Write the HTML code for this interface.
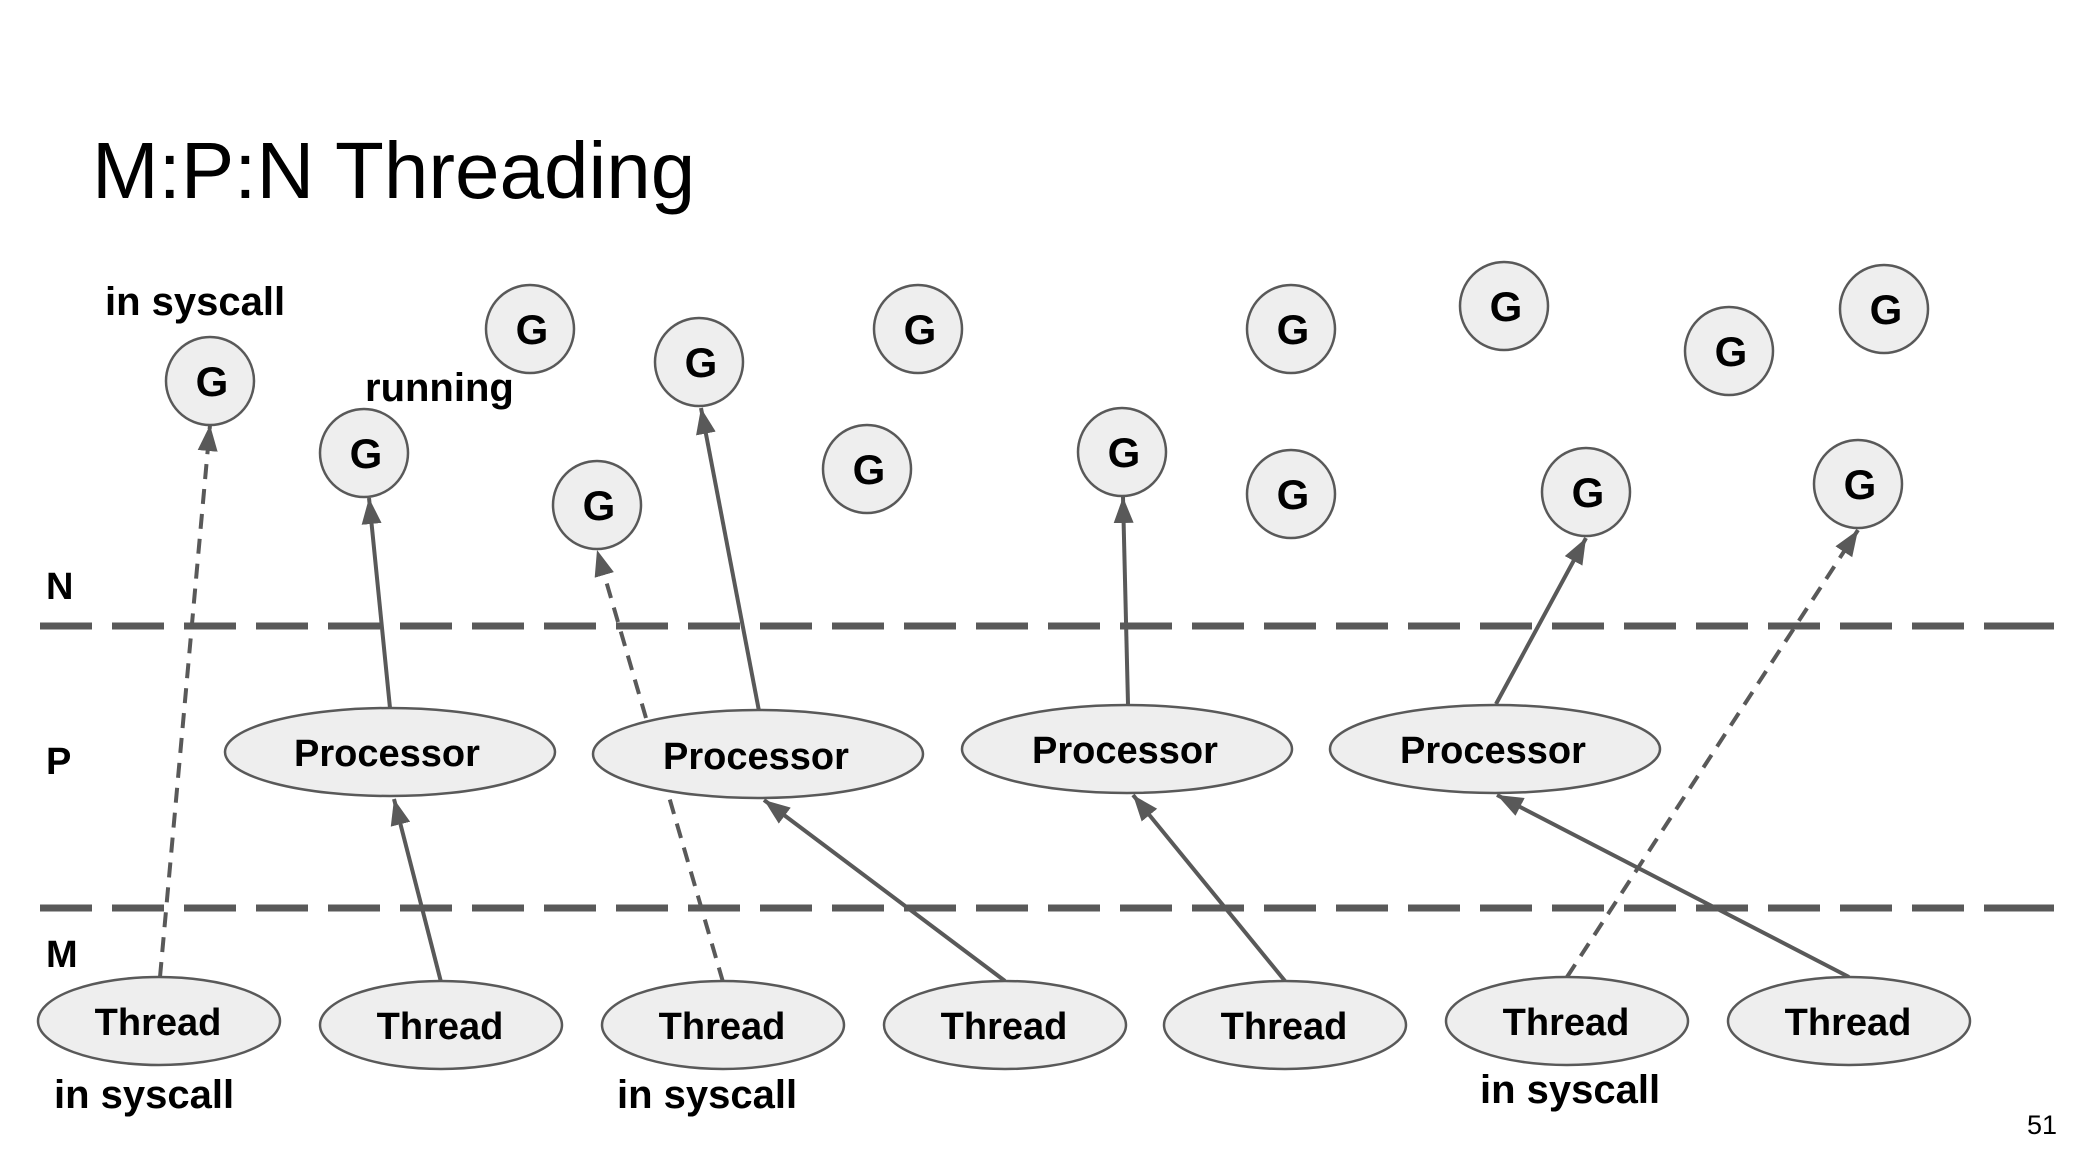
<!DOCTYPE html>
<html><head><meta charset="utf-8"><style>
html,body{margin:0;padding:0;background:#fff;}
svg{display:block;}
text{font-family:"Liberation Sans",Arial,sans-serif;fill:#000;}
.b{font-weight:bold;}
</style></head><body>
<svg width="2094" height="1172" viewBox="0 0 2094 1172" xmlns="http://www.w3.org/2000/svg">
<defs>
<marker id="ah" markerUnits="userSpaceOnUse" markerWidth="30" markerHeight="24" refX="26" refY="10" orient="auto">
<path d="M0,0 L26,10 L0,20 Z" fill="#595959"/>
</marker>
</defs>
<rect width="2094" height="1172" fill="#fff"/>
<text x="92" y="198" font-size="80">M:P:N Threading</text>

<g stroke="#595959" stroke-width="7" stroke-dasharray="52 20" fill="none">
<line x1="40" y1="626" x2="2054" y2="626"/>
<line x1="40" y1="908" x2="2054" y2="908"/>
<line x1="2002" y1="626" x2="2054" y2="626"/>
<line x1="2002" y1="908" x2="2054" y2="908"/>
</g>

<text class="b" x="46" y="599" font-size="38">N</text>
<text class="b" x="46" y="774" font-size="38">P</text>
<text class="b" x="46" y="967" font-size="38">M</text>

<g stroke="#595959" stroke-width="4" fill="none" marker-end="url(#ah)">
<line x1="160" y1="977" x2="210" y2="425" stroke-dasharray="15 10"/>
<line x1="390" y1="708" x2="369" y2="498"/>
<line x1="441" y1="982" x2="394" y2="799"/>
<line x1="723" y1="982" x2="597" y2="550" stroke-dasharray="15 10"/>
<line x1="759" y1="711" x2="701" y2="408"/>
<line x1="1005" y1="981" x2="764" y2="800"/>
<line x1="1128" y1="704" x2="1123" y2="497"/>
<line x1="1285" y1="981" x2="1133" y2="795"/>
<line x1="1496" y1="704" x2="1586" y2="538"/>
<line x1="1849" y1="977" x2="1497" y2="795"/>
<line x1="1567" y1="977" x2="1858" y2="530" stroke-dasharray="15 10"/>
</g>

<g fill="#eeeeee" stroke="#595959" stroke-width="2.5">
<circle cx="210" cy="381" r="44"/>
<circle cx="530" cy="329" r="44"/>
<circle cx="364" cy="453" r="44"/>
<circle cx="699" cy="362" r="44"/>
<circle cx="597" cy="505" r="44"/>
<circle cx="918" cy="329" r="44"/>
<circle cx="867" cy="469" r="44"/>
<circle cx="1122" cy="452" r="44"/>
<circle cx="1291" cy="329" r="44"/>
<circle cx="1291" cy="494" r="44"/>
<circle cx="1504" cy="306" r="44"/>
<circle cx="1586" cy="492" r="44"/>
<circle cx="1729" cy="351" r="44"/>
<circle cx="1884" cy="309" r="44"/>
<circle cx="1858" cy="484" r="44"/>
<ellipse cx="390" cy="752" rx="165" ry="44"/>
<ellipse cx="758" cy="754" rx="165" ry="44"/>
<ellipse cx="1127" cy="749" rx="165" ry="44"/>
<ellipse cx="1495" cy="749" rx="165" ry="44"/>
<ellipse cx="159" cy="1021" rx="121" ry="44"/>
<ellipse cx="441" cy="1025" rx="121" ry="44"/>
<ellipse cx="723" cy="1025" rx="121" ry="44"/>
<ellipse cx="1005" cy="1025" rx="121" ry="44"/>
<ellipse cx="1285" cy="1025" rx="121" ry="44"/>
<ellipse cx="1567" cy="1021" rx="121" ry="44"/>
<ellipse cx="1849" cy="1021" rx="121" ry="44"/>
</g>

<g class="b" font-size="42" text-anchor="middle">
<text x="212" y="396">G</text>
<text x="532" y="344">G</text>
<text x="366" y="468">G</text>
<text x="701" y="377">G</text>
<text x="599" y="520">G</text>
<text x="920" y="344">G</text>
<text x="869" y="484">G</text>
<text x="1124" y="467">G</text>
<text x="1293" y="344">G</text>
<text x="1293" y="509">G</text>
<text x="1506" y="321">G</text>
<text x="1588" y="507">G</text>
<text x="1731" y="366">G</text>
<text x="1886" y="324">G</text>
<text x="1860" y="499">G</text>
</g>

<g class="b" font-size="38" text-anchor="middle">
<text x="387" y="766">Processor</text>
<text x="756" y="769">Processor</text>
<text x="1125" y="763">Processor</text>
<text x="1493" y="763">Processor</text>
<text x="158" y="1035">Thread</text>
<text x="440" y="1039">Thread</text>
<text x="722" y="1039">Thread</text>
<text x="1004" y="1039">Thread</text>
<text x="1284" y="1039">Thread</text>
<text x="1566" y="1035">Thread</text>
<text x="1848" y="1035">Thread</text>
</g>

<g class="b" font-size="40">
<text x="105" y="315">in syscall</text>
<text x="365" y="401">running</text>
<text x="54" y="1108">in syscall</text>
<text x="617" y="1108">in syscall</text>
<text x="1480" y="1103">in syscall</text>
</g>
<text x="2027" y="1134" font-size="27">51</text>
</svg>
</body></html>
